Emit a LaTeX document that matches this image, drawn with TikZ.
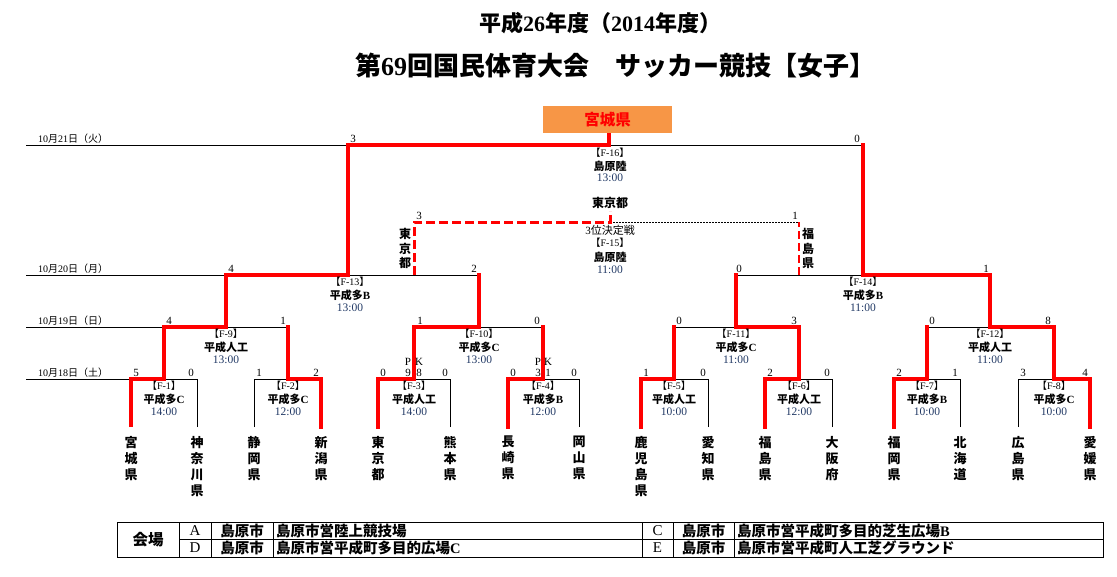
\documentclass[tikz,border=0pt]{standalone}
\usepackage{fontspec}
\setmainfont{Liberation Serif}
\newfontfamily\jp{Noto Sans CJK JP}
\newcommand\J[1]{{\jp #1}}
\definecolor{navy}{HTML}{203864}
\definecolor{boxorange}{HTML}{F79646}
\begin{document}
\begin{tikzpicture}[x=1pt,y=-1pt,
 win/.style={draw=red,line width=3.5pt},
 winL/.style={draw=red,line width=3.5pt,line cap=rect},
 lose/.style={draw=black,line width=0.9pt},
 dashR/.style={draw=red,line width=3pt,dash pattern=on 9pt off 4pt},
 dashRt/.style={draw=red,line width=2.2pt,dash pattern=on 8pt off 4pt},
 dotB/.style={draw=black,line width=0.9pt,dash pattern=on 1.5pt off 1.5pt},
 sc/.style={inner sep=0pt,font=\fontsize{11}{11}\selectfont},
 fl/.style={inner sep=0pt,font=\fontsize{10}{10}\selectfont},
 vl/.style={inner sep=0pt,font=\bfseries\fontsize{11}{11}\selectfont},
 tl/.style={inner sep=0pt,text=navy,font=\fontsize{11.5}{11.5}\selectfont},
 team/.style={inner sep=0pt,anchor=north,align=center,font=\jp\bfseries\fontsize{13}{16}\selectfont},
 vteam/.style={inner sep=0pt,align=center,font=\jp\bfseries\fontsize{12}{14.5}\selectfont},
 dl/.style={inner sep=0pt,anchor=west,font=\fontsize{10}{10}\selectfont},
 tbl/.style={draw=black,line width=1pt},
 tc/.style={inner sep=0pt,font=\bfseries\fontsize{14.5}{14.5}\selectfont},
 tw/.style={tc,anchor=west},
 tlet/.style={inner sep=0pt,font=\fontsize{15}{15}\selectfont},
]
\fill[white] (0,0) rectangle (1117,576);
\useasboundingbox (0,0) rectangle (1117,576);

% titles
\node[inner sep=0pt,font=\bfseries\fontsize{22}{22}\selectfont] (title1) at (600,23) {\J{平成}26\J{年度（}2014\J{年度）}};
\node[inner sep=0pt,font=\bfseries\fontsize{26}{26}\selectfont] (title2) at (615,66) {\J{第}69\J{回国民体育大会　サッカー競技【女子】}};

% champion box
\node[fill=boxorange,minimum width=129pt,minimum height=27pt,inner sep=0pt,text=red,font=\jp\bfseries\fontsize{15.5}{15.5}\selectfont] (champ) at (607.5,119.5) {宮城県};

% coordinates
\coordinate (L1) at (131,427);  \coordinate (L2) at (197,427);
\coordinate (L3) at (254,427);  \coordinate (L4) at (321,427);
\coordinate (L5) at (378,427);  \coordinate (L6) at (450,427);
\coordinate (L7) at (508,427);  \coordinate (L8) at (579,427);
\coordinate (L9) at (641,427);  \coordinate (L10) at (708,427);
\coordinate (L11) at (765,427); \coordinate (L12) at (832,427);
\coordinate (L13) at (894,427); \coordinate (L14) at (960,427);
\coordinate (L15) at (1018,427);\coordinate (L16) at (1090,427);
\coordinate (M1) at (164,379); \coordinate (M2) at (288,379);
\coordinate (M3) at (414,379); \coordinate (M4) at (543,379);
\coordinate (M5) at (674,379); \coordinate (M6) at (799,379);
\coordinate (M7) at (927,379); \coordinate (M8) at (1054,379);
\coordinate (M9) at (226,327); \coordinate (M10) at (479,327);
\coordinate (M11) at (736,327); \coordinate (M12) at (990,327);
\coordinate (M13) at (348,275); \coordinate (M14) at (863,275);
\coordinate (FN) at (609,145);
\coordinate (TP) at (610,222); \coordinate (TPtop) at (610,211);
\coordinate (D21) at (26,145); \coordinate (D20) at (26,275);
\coordinate (D19) at (26,327); \coordinate (D18) at (26,379);

% date labels
\node[dl] (d21) at (38,139) {10\J{月}21\J{日（火）}};
\node[dl] (d20) at (38,269) {10\J{月}20\J{日（月）}};
\node[dl] (d19) at (38,321) {10\J{月}19\J{日（日）}};
\node[dl] (d18) at (38,373) {10\J{月}18\J{日（土）}};

% black lines
\draw[lose] (D21) -- (M13|-D21);
\draw[lose] (D20) -- (M9|-D20);
\draw[lose] (D19) -- (M1|-D19);
\draw[lose] (D18) -- (L1|-D18);
\draw[lose] (L2) |- (M1);
\draw[lose] (L3) |- (M2);
\draw[lose] (L6) |- (M3);
\draw[lose] (L8) |- (M4);
\draw[lose] (L10) |- (M5);
\draw[lose] (L12) |- (M6);
\draw[lose] (L14) |- (M7);
\draw[lose] (L15) |- (M8);
\draw[lose] (M2|-M9) -- (M9);
\draw[lose] (M4|-M10) -- (M10);
\draw[lose] (M5|-M11) -- (M11);
\draw[lose] (M7|-M12) -- (M12);
\draw[lose] (M10|-M13) -- (M13);
\draw[lose] (M11|-M14) -- (M14);
\draw[lose] (M14|-FN) -- (FN);

% third place
\draw[dotB] (TP) -- (M6|-TP);
\draw[dashRt] (M6|-M14) -- (M6|-TP);
\draw[dashR] (M3|-M13) |- (TP) -- (TPtop);

% red winner paths
\draw[win] (L1) |- (M1) |- (M9) |- (M13) |- (FN) -- (FN|-champ.south);
\draw[winL] (L4) |- (M2) -- (M2|-M9);
\draw[winL] (L5) |- (M3) |- (M10) -- (M10|-M13);
\draw[winL] (L7) |- (M4) -- (M4|-M10);
\draw[winL] (L9) |- (M5) -- (M5|-M11);
\draw[winL] (L11) |- (M6) |- (M11) -- (M11|-M14);
\draw[winL] (L13) |- (M7) -- (M7|-M12);
\draw[winL] (L16) |- (M8) |- (M12) |- (M14) -- (M14|-FN);

% teams
\node[team] (n1) at ([yshift=-9pt]L1) {宮\\城\\県};
\node[team] (n2) at ([yshift=-9pt]L2) {神\\奈\\川\\県};
\node[team] (n3) at ([yshift=-9pt]L3) {静\\岡\\県};
\node[team] (n4) at ([yshift=-9pt]L4) {新\\潟\\県};
\node[team] (n5) at ([yshift=-9pt]L5) {東\\京\\都};
\node[team] (n6) at ([yshift=-9pt]L6) {熊\\本\\県};
\node[team] (n7) at ([yshift=-9pt]L7) {長\\崎\\県};
\node[team] (n8) at ([yshift=-9pt]L8) {岡\\山\\県};
\node[team] (n9) at ([yshift=-9pt]L9) {鹿\\児\\島\\県};
\node[team] (n10) at ([yshift=-9pt]L10) {愛\\知\\県};
\node[team] (n11) at ([yshift=-9pt]L11) {福\\島\\県};
\node[team] (n12) at ([yshift=-9pt]L12) {大\\阪\\府};
\node[team] (n13) at ([yshift=-9pt]L13) {福\\岡\\県};
\node[team] (n14) at ([yshift=-9pt]L14) {北\\海\\道};
\node[team] (n15) at ([yshift=-9pt]L15) {広\\島\\県};
\node[team] (n16) at ([yshift=-9pt]L16) {愛\\媛\\県};

% scores
\foreach \x/\y/\t [count=\i] in {
 136/373/5,191/373/0,259/373/1,316/373/2,383/373/0,408/373/9,419/373/8,445/373/0,
 513/373/0,538/373/3,548/373/1,574/373/0,646/373/1,703/373/0,770/373/2,827/373/0,
 899/373/2,955/373/1,1023/373/3,1085/373/4,
 408/362/P,419/362/K,538/362/P,548/362/K,
 169/321/4,283/321/1,420/321/1,537/321/0,679/321/0,794/321/3,932/321/0,1048/321/8,
 231/269/4,474/269/2,739/269/0,986/269/1,
 353/139/3,857/139/0,419/216/3,795/216/1}
 {\node[sc] (s\i) at (\x,\y) {\t};}

% match labels
\foreach \n/\x/\y/\v/\t in {
 1/164/379/{\J{平成多}C}/14:00,
 2/288/379/{\J{平成多}C}/12:00,
 3/414/379/{\J{平成人工}}/14:00,
 4/543/379/{\J{平成多}B}/12:00,
 5/674/379/{\J{平成人工}}/10:00,
 6/799/379/{\J{平成人工}}/12:00,
 7/927/379/{\J{平成多}B}/10:00,
 8/1054/379/{\J{平成多}C}/10:00,
 9/226/327/{\J{平成人工}}/13:00,
 10/479/327/{\J{平成多}C}/13:00,
 11/736/327/{\J{平成多}C}/11:00,
 12/990/327/{\J{平成人工}}/11:00,
 13/350/275/{\J{平成多}B}/13:00,
 14/863/275/{\J{平成多}B}/11:00}
{
 \node[fl] (f\n) at (\x,\y+7) {\J{【}F-\n\J{】}};
 \node[vl] (v\n) at (\x,\y+20) {\v};
 \node[tl] (t\n) at (\x,\y+33) {\t};
}

% final and third place labels
\node[fl] (f16) at (610,153) {\J{【}F-16\J{】}};
\node[vl] (v16) at (610,166) {\J{島原陸}};
\node[tl] (t16) at (610,178) {13:00};
\node[vl,font=\jp\bfseries\fontsize{12}{12}\selectfont] (tokyo3) at (610,203) {東京都};
\node[fl,font=\fontsize{11}{11}\selectfont] (q15) at (610,230) {3\J{位決定戦}};
\node[fl] (f15) at (610,243) {\J{【}F-15\J{】}};
\node[vl] (v15) at (610,257) {\J{島原陸}};
\node[tl] (t15) at (610,270) {11:00};
\node[vteam] (tokyoV) at (405,248.5) {東\\京\\都};
\node[vteam] (fukuV) at (808,248.5) {福\\島\\県};

% venue table
\draw[tbl] (117,522) rectangle (1103,557);
\draw[tbl] (179,539) -- (1103,539);
\foreach \x in {179,211,273,642,673,734} \draw[tbl] (\x,522) -- (\x,557);
\node[tc,font=\jp\bfseries\fontsize{15.5}{15.5}\selectfont] (kaijo) at (148,539.5) {会場};
\node[tlet] (ca) at (195,530.5) {A};
\node[tlet] (cd) at (195,548) {D};
\node[tc] (c1) at (242,530.5) {\J{島原市}};
\node[tc] (c2) at (242,548) {\J{島原市}};
\node[tw] (va) at (276,530.5) {\J{島原市営陸上競技場}};
\node[tw] (vd) at (276,548) {\J{島原市営平成町多目的広場}C};
\node[tlet] (cc) at (657.5,530.5) {C};
\node[tlet] (ce) at (657.5,548) {E};
\node[tc] (c3) at (703.5,530.5) {\J{島原市}};
\node[tc] (c4) at (703.5,548) {\J{島原市}};
\node[tw] (vc) at (737,530.5) {\J{島原市営平成町多目的芝生広場}B};
\node[tw] (ve) at (737,548) {\J{島原市営平成町人工芝グラウンド}};
\end{tikzpicture}
\end{document}
